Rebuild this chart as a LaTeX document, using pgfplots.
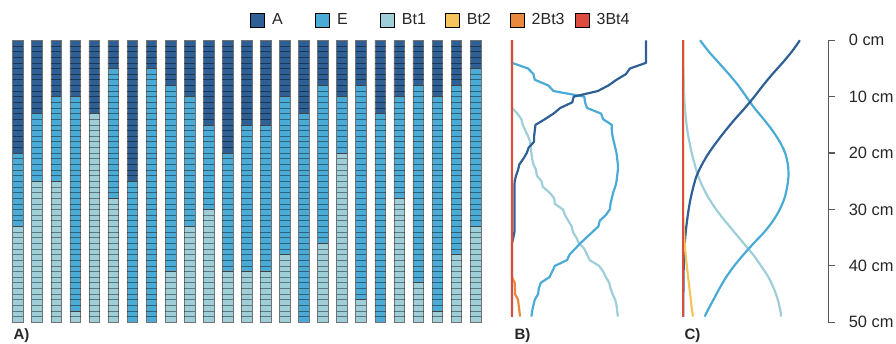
\documentclass[border=0pt]{standalone}
\usepackage{pgfplots}
\pgfplotsset{compat=1.18}
\usepackage{pgfplotstable}
\usepackage{fontspec}
\setmainfont{Liberation Sans}

\definecolor{cA}{HTML}{2E6096}
\definecolor{cE}{HTML}{4AABD6}
\definecolor{cBtone}{HTML}{9ECFD8}
\definecolor{cBttwo}{HTML}{F5C45A}
\definecolor{cBtthree}{HTML}{EA883C}
\definecolor{cBtfour}{HTML}{DD4C3E}

% horizon thickness (cm) in each of the 25 profiles
\pgfplotstableread{
col A E Bt1
1 20 13 17
2 13 12 25
3 10 15 25
4 10 38 2
5 13 0 37
6 5 23 22
7 25 25 0
8 5 45 0
9 8 33 9
10 10 23 17
11 15 15 20
12 20 21 9
13 15 26 9
14 15 26 9
15 10 28 12
16 13 37 0
17 8 28 14
18 10 10 30
19 8 38 4
20 13 37 0
21 10 18 22
22 8 35 7
23 10 38 2
24 8 30 12
25 5 28 17
}\profiles

% observed frequency of each horizon by depth
\pgfplotstableread{
d A E Bt1 Bt2 Bt3 Bt4
0 1.00 0 0 0 0 0
1 1.00 0 0 0 0 0
2 1.00 0 0 0 0 0
3 1.00 0 0 0 0 0
4 1.00 0.00 0 0 0 0
5 0.88 0.12 0 0 0 0
6 0.85 0.16 0 0 0 0
7 0.78 0.17 0 0 0 0
8 0.72 0.27 0 0 0 0
9 0.64 0.31 0 0 0 0
10 0.46 0.54 0 0 0 0
11 0.45 0.545 0 0 0 0
12 0.36 0.56 0 0 0 0
13 0.31 0.665 0.04 0 0 0
14 0.245 0.68 0.07 0 0 0
15 0.175 0.745 0.08 0 0 0
16 0.17 0.745 0.10 0 0 0
17 0.165 0.75 0.12 0 0 0
18 0.165 0.76 0.135 0 0 0
19 0.125 0.77 0.14 0 0 0
20 0.11 0.78 0.145 0 0 0
21 0.085 0.785 0.15 0 0 0
22 0.055 0.79 0.16 0 0 0
23 0.045 0.79 0.18 0 0 0
24 0.03 0.785 0.185 0 0 0
25 0.02 0.78 0.22 0 0 0
26 0.018 0.77 0.23 0 0 0
27 0.018 0.755 0.28 0 0 0
28 0.018 0.745 0.315 0 0 0
29 0.018 0.735 0.32 0 0 0
30 0.018 0.73 0.38 0 0 0
31 0.018 0.70 0.395 0 0 0
32 0.018 0.655 0.42 0 0 0
33 0.018 0.645 0.445 0 0 0
34 0.018 0.60 0.455 0 0 0
35 0.01 0.555 0.48 0 0 0
36 0 0.51 0.50 0 0 0
37 0 0.47 0.54 0 0 0
38 0 0.43 0.56 0 0 0
39 0 0.41 0.58 0 0 0
40 0 0.32 0.65 0 0 0
41 0 0.30 0.68 0 0 0
42 0 0.28 0.70 0 0 0
43 0 0.215 0.725 0 0.02 0
44 0 0.20 0.735 0 0.022 0
45 0 0.195 0.75 0 0.022 0
46 0 0.17 0.77 0 0.045 0
47 0 0.16 0.78 0 0.05 0
48 0 0.15 0.785 0 0.055 0
49 0 0.145 0.79 0 0.06 0
}\observed

% modelled probability of each horizon by depth
\pgfplotstableread{
d A E Bt1 Bt2 Bt3 Bt4
0 0.870 0.125 0.000 0 0 0
2 0.810 0.190 0.000 0 0 0
4 0.740 0.265 0.000 0 0 0
6 0.665 0.340 0.002 0 0 0
8 0.595 0.410 0.004 0 0 0
10 0.530 0.470 0.007 0 0 0
12 0.460 0.530 0.012 0 0 0
14 0.385 0.600 0.020 0 0 0
16 0.315 0.665 0.030 0 0 0
18 0.250 0.720 0.045 0 0 0
20 0.190 0.760 0.063 0 0 0
22 0.140 0.780 0.085 0 0 0
24 0.100 0.785 0.110 0 0 0
26 0.075 0.775 0.145 0 0 0
28 0.055 0.755 0.190 0 0 0
30 0.040 0.720 0.245 0 0 0
32 0.028 0.670 0.310 0.001 0 0
34 0.018 0.605 0.380 0.005 0 0
36 0.011 0.525 0.450 0.010 0 0
38 0.006 0.450 0.520 0.017 0 0
40 0.003 0.380 0.580 0.026 0 0
42 0.002 0.320 0.635 0.036 0 0
44 0.001 0.270 0.675 0.046 0 0
46 0.000 0.225 0.705 0.056 0 0
48 0.000 0.180 0.725 0.066 0 0
49 0.000 0.160 0.730 0.072 0 0
}\modelled

\pgfplotsset{
  panel/.style={scale only axis, hide axis, clip=false,
    ymin=0, ymax=50, y dir=reverse, height=281.9pt},
  profilepanel/.style={panel, at={(8.5pt,20.8pt)}, anchor=south west,
    width=476.5pt, xmin=0.5, xmax=25.5},
  prob/.style={panel, xmin=0, xmax=1, width=134pt},
  sq/.style={legend image code/.code={\fill[##1] (0pt,-7pt) rectangle (14pt,7pt);}},
  curve/.style={line width=2.2pt, line join=round},
}

\begin{document}
\begin{tikzpicture}[x=1pt,y=1pt]
\useasboundingbox (0,0) rectangle (896,343);

% A) individual profiles
\begin{axis}[profilepanel, ybar stacked, bar width=0.56]
\addplot[fill=cA, draw=black!55, line width=0.6pt] table[x=col, y=A] {\profiles};
\addplot[fill=cE, draw=black!55, line width=0.6pt] table[x=col, y=E] {\profiles};
\addplot[fill=cBtone, draw=black!55, line width=0.6pt] table[x=col, y=Bt1] {\profiles};
\end{axis}

% 1 cm cell boundaries over the profiles
\begin{axis}[profilepanel]
\addplot[draw=none] coordinates {(1,0) (25,50)};
\pgfplotsextra{
  \foreach \c in {1,...,25}{
    \pgfmathsetmacro\xl{\c-0.28}
    \pgfmathsetmacro\xr{\c+0.28}
    \foreach \d in {1,...,49}{
      \draw[black, opacity=0.42, line width=0.6pt] (axis cs:\xl,\d) -- (axis cs:\xr,\d);
    }
  }
}
\end{axis}

% B) observed frequencies
\begin{axis}[prob, at={(512pt,20.8pt)}, anchor=south west,
  legend columns=6,
  legend style={at={(-1.955,1.072)}, anchor=west, draw=none, fill=none,
    inner sep=0pt, font=\fontsize{16}{19}\selectfont, text=black!85}]
\addlegendimage{sq, fill=cA}\addlegendentry{\makebox[46.5pt][l]{\hspace{5.5pt}A}}
\addlegendimage{sq, fill=cE}\addlegendentry{\makebox[46.5pt][l]{\hspace{5.5pt}E}}
\addlegendimage{sq, fill=cBtone}\addlegendentry{\makebox[46.5pt][l]{\hspace{5.5pt}Bt1}}
\addlegendimage{sq, fill=cBttwo}\addlegendentry{\makebox[46.5pt][l]{\hspace{5.5pt}Bt2}}
\addlegendimage{sq, fill=cBtthree}\addlegendentry{\makebox[46.5pt][l]{\hspace{5.5pt}2Bt3}}
\addlegendimage{sq, fill=cBtfour}\addlegendentry{\makebox[46.5pt][l]{\hspace{5.5pt}3Bt4}}
\addplot[curve, cBtone] table[x=Bt1, y=d] {\observed};
\addplot[curve, cE] table[x=E, y=d] {\observed};
\addplot[curve, cA] table[x=A, y=d] {\observed};
\addplot[curve, cBttwo] table[x=Bt2, y=d] {\observed};
\addplot[curve, cBtthree] table[x=Bt3, y=d] {\observed};
\addplot[curve, cBtfour] table[x=Bt4, y=d] {\observed};
\end{axis}

% C) modelled probabilities
\begin{axis}[prob, at={(683.3pt,20.8pt)}, anchor=south west]
\addplot[curve, cBtone, smooth] table[x=Bt1, y=d] {\modelled};
\addplot[curve, cE, smooth] table[x=E, y=d] {\modelled};
\addplot[curve, cA, smooth] table[x=A, y=d] {\modelled};
\addplot[curve, cBttwo, smooth] table[x=Bt2, y=d] {\modelled};
\addplot[curve, cBtthree, smooth] table[x=Bt3, y=d] {\modelled};
\addplot[curve, cBtfour, smooth] table[x=Bt4, y=d] {\modelled};
\end{axis}

% depth scale
\begin{axis}[scale only axis, at={(818.3pt,20.8pt)}, anchor=south west,
  width=10pt, height=281.9pt, xmin=0, xmax=1, ymin=0, ymax=50, y dir=reverse,
  axis x line=none, axis y line*=right,
  y axis line style={draw=black!65, line width=1.3pt},
  ytick={0,10,20,30,40,50},
  yticklabels={0 cm,10 cm,20 cm,30 cm,40 cm,50 cm},
  tick align=outside, major tick length=7pt,
  tick style={draw=black!65, line width=1.3pt},
  yticklabel style={font=\fontsize{16.4}{19}\selectfont, text=black!85, xshift=10pt}]
\addplot[draw=none] coordinates {(0,0) (1,50)};
\end{axis}

\node[anchor=base west, font=\bfseries\fontsize{15}{18}\selectfont, text=black!85] at (10,3.5) {A)};
\node[anchor=base west, font=\bfseries\fontsize{15}{18}\selectfont, text=black!85] at (511,3.5) {B)};
\node[anchor=base west, font=\bfseries\fontsize{15}{18}\selectfont, text=black!85] at (681,3.5) {C)};
\end{tikzpicture}
\end{document}
